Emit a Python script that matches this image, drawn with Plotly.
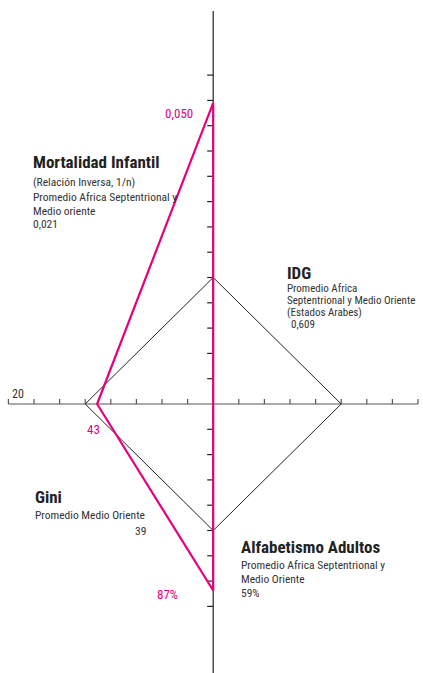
import plotly.graph_objects as go

# ---- data ----
categories = ["Mortalidad Infantil", "IDG", "Alfabetismo Adultos", "Gini"]
country_values = [0.050, None, 87, 43]
regional_avg = [0.021, 0.609, 59, 39]
inverse_scale = [False, False, False, True]
value_labels = ["0,050", "", "87%", "43"]
avg_labels = ["0,021", "0,609", "59%", "39"]
x_ticks = [-8, -7, -6, -5, -4, -3, -2, -1, 1, 2, 3, 4, 5, 6, 7, 8]
y_ticks = [-8, -7, -6, -5, -4, -3, -2, -1, 1, 2, 3, 4, 5, 6, 7, 8, 9, 10, 11, 12, 13]
end_label = "20"

AVG_UNITS = 5.0
directions = [(0, 1), (1, 0), (0, -1), (-1, 0)]

W, H = 423, 673
X0_PX, Y0_PX = 213.2, 404.0
UX, UY = 25.6, 25.3
x_range = [-X0_PX / UX, (W - X0_PX) / UX]
y_range = [-(H - Y0_PX) / UY, Y0_PX / UY]

MAGENTA = "#e6007e"
AXIS_H = "#555555"
AXIS_V = "#222222"
FONT = "Roboto Condensed, Open Sans Condensed, DejaVu Sans, sans-serif"


def norm(v, avg, inv):
    if v is None:
        return 0.0
    return AVG_UNITS * (avg / v if inv else v / avg)


avg_r = [AVG_UNITS for _ in regional_avg]
val_r = [norm(v, a, i) for v, a, i in zip(country_values, regional_avg, inverse_scale)]

avg_x = [d[0] * r for d, r in zip(directions, avg_r)] + [directions[0][0] * avg_r[0]]
avg_y = [d[1] * r for d, r in zip(directions, avg_r)] + [directions[0][1] * avg_r[0]]
val_x = [d[0] * r for d, r in zip(directions, val_r)] + [directions[0][0] * val_r[0]]
val_y = [d[1] * r for d, r in zip(directions, val_r)] + [directions[0][1] * val_r[0]]

fig = go.Figure()

# horizontal axis + ticks (ticks point up)
tick_len_y = 5 / UY
hx, hy = [x_ticks[0], x_ticks[-1]], [0, 0]
for t in x_ticks:
    hx += [None, t, t]
    hy += [None, 0, tick_len_y]
fig.add_trace(go.Scatter(x=hx, y=hy, mode="lines", line=dict(color=AXIS_H, width=1.2),
                         hoverinfo="skip", showlegend=False))

# vertical axis + ticks (ticks point left)
tick_len_x = 6 / UX
vtop = (Y0_PX - 11) / UY
vx, vy = [0, 0], [y_range[0], vtop]
for t in y_ticks:
    vx += [None, 0, -tick_len_x]
    vy += [None, t, t]
fig.add_trace(go.Scatter(x=vx, y=vy, mode="lines", line=dict(color=AXIS_V, width=1.2),
                         hoverinfo="skip", showlegend=False))

# regional average diamond
fig.add_trace(go.Scatter(x=avg_x, y=avg_y, mode="lines", line=dict(color="#222222", width=1),
                         hoverinfo="skip", showlegend=False))
# country polygon
fig.add_trace(go.Scatter(x=val_x, y=val_y, mode="lines", line=dict(color=MAGENTA, width=2.2),
                         hoverinfo="skip", showlegend=False))


def P(x, y):
    return x / W, 1 - y / H


def text(x, y, s, size=11.5, color="#333333", bold=False, anchor="left"):
    px_, py_ = P(x, y)
    fig.add_annotation(x=px_, y=py_, xref="paper", yref="paper", text=("<b>%s</b>" % s) if bold else s,
                       showarrow=False, xanchor=anchor, yanchor="middle",
                       font=dict(family=FONT, size=size, color=color))


TS = 17
# Mortalidad Infantil block
text(31, 162, categories[0], size=TS, color="#222222", bold=True)
text(31, 182.5, "(Relación Inversa, 1/n)")
text(31, 196.5, "Promedio Africa Septentrional y")
text(31, 210.5, "Medio oriente")
text(31, 224, avg_labels[0])

# IDG block
text(285, 273, categories[1], size=TS, color="#222222", bold=True)
text(285, 288.5, "Promedio Africa", size=11)
text(285, 300.5, "Septentrional y Medio Oriente", size=11)
text(285, 312.5, "(Estados Arabes)", size=11)
text(289, 324.5, avg_labels[1], size=11)

# Gini block
text(33, 497, categories[3], size=TS, color="#222222", bold=True)
text(33, 515, "Promedio Medio Oriente")
text(148, 530.5, avg_labels[3], anchor="right")

# Alfabetismo block
text(239, 547, categories[2], size=TS, color="#222222", bold=True)
text(239, 565, "Promedio Africa Septentrional y")
text(239, 578.5, "Medio Oriente")
text(239, 593, avg_labels[2])

# magenta value labels
text(195, 113.5, value_labels[0], size=13, color=MAGENTA, anchor="right")
text(85, 430, value_labels[3], size=13, color=MAGENTA)
text(180, 594.5, value_labels[2], size=13, color=MAGENTA, anchor="right")
text(10, 394, end_label, size=12, color="#333333")

fig.update_layout(
    width=W, height=H,
    margin=dict(l=0, r=0, t=0, b=0),
    paper_bgcolor="white", plot_bgcolor="white",
    xaxis=dict(range=x_range, visible=False, fixedrange=True),
    yaxis=dict(range=y_range, visible=False, fixedrange=True),
    showlegend=False,
)

fig.write_html("out.html", config={"displayModeBar": False},
               post_script="document.body.style.margin='0';")
